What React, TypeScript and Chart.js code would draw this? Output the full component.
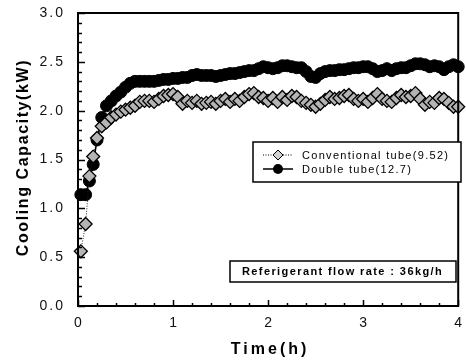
import React, { useEffect, useRef } from "react";
import { Chart, registerables } from "chart.js";

Chart.register(...registerables);

const times = [
  0.03, 0.08, 0.12, 0.16, 0.2, 0.25, 0.3, 0.35, 0.4, 0.45, 0.5, 0.55, 0.6, 0.65, 0.7, 0.75, 0.8, 0.85, 0.9, 0.95,
  1.0, 1.05, 1.1, 1.15, 1.2, 1.25, 1.3, 1.35, 1.4, 1.45, 1.5, 1.55, 1.6, 1.65, 1.7, 1.75, 1.8, 1.85, 1.9, 1.95,
  2.0, 2.05, 2.1, 2.15, 2.2, 2.25, 2.3, 2.35, 2.4, 2.45, 2.5, 2.55, 2.6, 2.65, 2.7, 2.75, 2.8, 2.85, 2.9, 2.95,
  3.0, 3.05, 3.1, 3.15, 3.2, 3.25, 3.3, 3.35, 3.4, 3.45, 3.5, 3.55, 3.6, 3.65, 3.7, 3.75, 3.8, 3.85, 3.9, 3.95, 4.0,
];

const conventional = [
  0.56, 0.84, 1.33, 1.53, 1.72, 1.84, 1.88, 1.93, 1.96, 1.99, 2.01, 2.03, 2.05, 2.09, 2.1, 2.1, 2.09, 2.12, 2.15, 2.16,
  2.17, 2.14, 2.07, 2.1, 2.08, 2.1, 2.07, 2.08, 2.09, 2.07, 2.1, 2.12, 2.09, 2.12, 2.1, 2.14, 2.17, 2.18, 2.14, 2.13,
  2.1, 2.13, 2.09, 2.14, 2.11, 2.15, 2.14, 2.1, 2.08, 2.06, 2.04, 2.07, 2.11, 2.14, 2.12, 2.13, 2.15, 2.16, 2.12, 2.1,
  2.12, 2.09, 2.13, 2.17, 2.12, 2.1, 2.09, 2.13, 2.16, 2.14, 2.15, 2.18, 2.12, 2.06, 2.09, 2.08, 2.13, 2.12, 2.08, 2.04, 2.04,
];

const doubleTube = [
  1.14, 1.14, 1.28, 1.45, 1.7, 1.93, 2.05, 2.1, 2.15, 2.19, 2.24, 2.28, 2.3, 2.3, 2.3, 2.3, 2.3, 2.31, 2.32, 2.32,
  2.33, 2.33, 2.34, 2.34, 2.36, 2.37, 2.36, 2.36, 2.36, 2.35, 2.36, 2.37, 2.38, 2.38, 2.39, 2.4, 2.41, 2.41, 2.43, 2.45,
  2.44, 2.43, 2.44, 2.46, 2.46, 2.45, 2.44, 2.44, 2.4, 2.35, 2.34, 2.38, 2.4, 2.41, 2.41, 2.42, 2.42, 2.43, 2.44, 2.44,
  2.45, 2.45, 2.43, 2.4, 2.41, 2.43, 2.41, 2.43, 2.44, 2.44, 2.46, 2.48, 2.48, 2.47, 2.45, 2.46, 2.45, 2.42, 2.45, 2.47, 2.45,
];

const xTickValues = [0, 1, 2, 3, 4];
const xTickLabels = ["0", "1", "2", "3", "4"];
const yTickValues = [0, 0.5, 1, 1.5, 2, 2.5, 3];
const yTickLabels = ["0.0", "0.5", "1.0", "1.5", "2.0", "2.5", "3.0"];
const xMinorStep = 0.2;
const yMinorStep = 0.1;

const seriesNames = ["Conventional tube(9.52)", "Double tube(12.7)"];
const xTitle = "Time(h)";
const yTitle = "Cooling Capacity(kW)";
const noteText = "Referigerant flow rate : 36kg/h";

const FONT = "'Liberation Sans', Arial, sans-serif";
const DIAMOND_FILL = "#b4b4b4";

function drawDiamond(ctx: CanvasRenderingContext2D, cx: number, cy: number, r: number) {
  ctx.beginPath();
  ctx.moveTo(cx, cy - r);
  ctx.lineTo(cx + r, cy);
  ctx.lineTo(cx, cy + r);
  ctx.lineTo(cx - r, cy);
  ctx.closePath();
  ctx.fillStyle = "#d0d0d0";
  ctx.fill();
  ctx.strokeStyle = "#000";
  ctx.lineWidth = 1;
  ctx.stroke();
}

const decorPlugin = {
  id: "decor",
  afterDraw(chart: any) {
    const ctx: CanvasRenderingContext2D = chart.ctx;
    const { left, right, top, bottom } = chart.chartArea;
    const xs = chart.scales.x;
    const ys = chart.scales.y;
    ctx.save();

    // frame
    ctx.strokeStyle = "#000";
    ctx.lineWidth = 2;
    ctx.strokeRect(left, top, right - left, bottom - top);

    // y ticks (inward)
    ctx.lineWidth = 1.5;
    const yCount = Math.round((ys.max - ys.min) / yMinorStep);
    for (let i = 0; i <= yCount; i++) {
      const v = ys.min + i * yMinorStep;
      const py = Math.round(ys.getPixelForValue(v)) + 0.5;
      const major = i % 5 === 0;
      ctx.beginPath();
      ctx.moveTo(left, py);
      ctx.lineTo(left + (major ? 7 : 4), py);
      ctx.stroke();
    }
    // x ticks (inward)
    const xCount = Math.round((xs.max - xs.min) / xMinorStep);
    for (let i = 0; i <= xCount; i++) {
      const v = xs.min + i * xMinorStep;
      const px = Math.round(xs.getPixelForValue(v)) + 0.5;
      const major = i % 5 === 0;
      ctx.beginPath();
      ctx.moveTo(px, bottom);
      ctx.lineTo(px, bottom - (major ? 6 : 3));
      ctx.stroke();
    }

    // tick labels
    ctx.fillStyle = "#111";
    ctx.font = `14px ${FONT}`;
    (ctx as any).letterSpacing = "2px";
    ctx.textAlign = "right";
    ctx.textBaseline = "middle";
    yTickValues.forEach((v, i) => {
      ctx.fillText(yTickLabels[i], 65, ys.getPixelForValue(v));
    });
    ctx.textAlign = "center";
    (ctx as any).letterSpacing = "0px";
    xTickValues.forEach((v, i) => {
      ctx.fillText(xTickLabels[i], xs.getPixelForValue(v), 323);
    });

    // axis titles
    ctx.fillStyle = "#000";
    ctx.font = `bold 16px ${FONT}`;
    (ctx as any).letterSpacing = "3px";
    ctx.textAlign = "center";
    ctx.fillText(xTitle, (left + right) / 2 + 2, 350);
    (ctx as any).letterSpacing = "1.6px";
    ctx.save();
    ctx.translate(24, (top + bottom) / 2 - 2);
    ctx.rotate(-Math.PI / 2);
    ctx.fillText(yTitle, 0, 0);
    ctx.restore();

    // legend
    const lx = 253, ly = 142, lw = 208, lh = 40;
    ctx.fillStyle = "#fff";
    ctx.fillRect(lx, ly, lw, lh);
    ctx.strokeStyle = "#000";
    ctx.lineWidth = 1.5;
    ctx.strokeRect(lx, ly, lw, lh);
    const r1 = 155, r2 = 169;
    ctx.lineWidth = 1;
    ctx.setLineDash([1, 1.5]);
    ctx.beginPath();
    ctx.moveTo(263, r1);
    ctx.lineTo(293, r1);
    ctx.stroke();
    ctx.setLineDash([]);
    drawDiamond(ctx, 278, r1, 5);
    ctx.lineWidth = 1.5;
    ctx.beginPath();
    ctx.moveTo(263, r2);
    ctx.lineTo(293, r2);
    ctx.stroke();
    ctx.beginPath();
    ctx.arc(278, r2, 5, 0, Math.PI * 2);
    ctx.fillStyle = "#000";
    ctx.fill();
    ctx.font = `11px ${FONT}`;
    (ctx as any).letterSpacing = "1.3px";
    ctx.textAlign = "left";
    ctx.fillStyle = "#000";
    ctx.fillText(seriesNames[0], 302, r1 + 0.5);
    ctx.fillText(seriesNames[1], 302, r2 + 0.5);

    // note box
    ctx.fillStyle = "#fff";
    ctx.fillRect(230, 261, 226, 21);
    ctx.strokeStyle = "#000";
    ctx.lineWidth = 1.5;
    ctx.strokeRect(230, 261, 226, 21);
    ctx.fillStyle = "#000";
    ctx.font = `bold 11px ${FONT}`;
    (ctx as any).letterSpacing = "1.4px";
    ctx.fillText(noteText, 242, 271.5);

    ctx.restore();
  },
};

export default function App() {
  const ref = useRef<HTMLCanvasElement>(null);
  useEffect(() => {
    if (!ref.current) return;
    const chart = new Chart(ref.current, {
      type: "line",
      data: {
        datasets: [
          {
            label: seriesNames[0],
            data: times.map((t, i) => ({ x: t, y: conventional[i] })),
            borderColor: "#222",
            borderWidth: 1,
            borderDash: [1, 1.5],
            pointStyle: "rectRot",
            pointRadius: 6.5,
            pointBackgroundColor: DIAMOND_FILL,
            pointBorderColor: "#000",
            pointBorderWidth: 1.3,
            tension: 0,
            clip: false as any,
          },
          {
            label: seriesNames[1],
            data: times.map((t, i) => ({ x: t, y: doubleTube[i] })),
            borderColor: "#000",
            borderWidth: 1.5,
            pointStyle: "circle",
            pointRadius: 6,
            pointBackgroundColor: "#000",
            pointBorderColor: "#000",
            pointBorderWidth: 1,
            tension: 0,
            clip: false as any,
          },
        ],
      },
      options: {
        animation: false,
        responsive: true,
        maintainAspectRatio: false,
        layout: { padding: { top: 13, right: 3, left: 0, bottom: 0 } },
        plugins: { legend: { display: false }, tooltip: { enabled: false } },
        scales: {
          x: {
            type: "linear",
            min: 0,
            max: 4,
            ticks: { display: false, stepSize: 1 },
            grid: { display: false },
            border: { display: false },
            afterFit: (s: any) => {
              s.height = 57;
            },
          },
          y: {
            type: "linear",
            min: 0,
            max: 3,
            ticks: { display: false, stepSize: 0.5 },
            grid: { display: false },
            border: { display: false },
            afterFit: (s: any) => {
              s.width = 78;
            },
          },
        },
      },
      plugins: [decorPlugin],
    });
    return () => chart.destroy();
  }, []);
  return (
    <div style={{ position: "absolute", left: 0, top: 0, width: 466, height: 363, background: "#fff" }}>
      <canvas ref={ref} />
    </div>
  );
}
